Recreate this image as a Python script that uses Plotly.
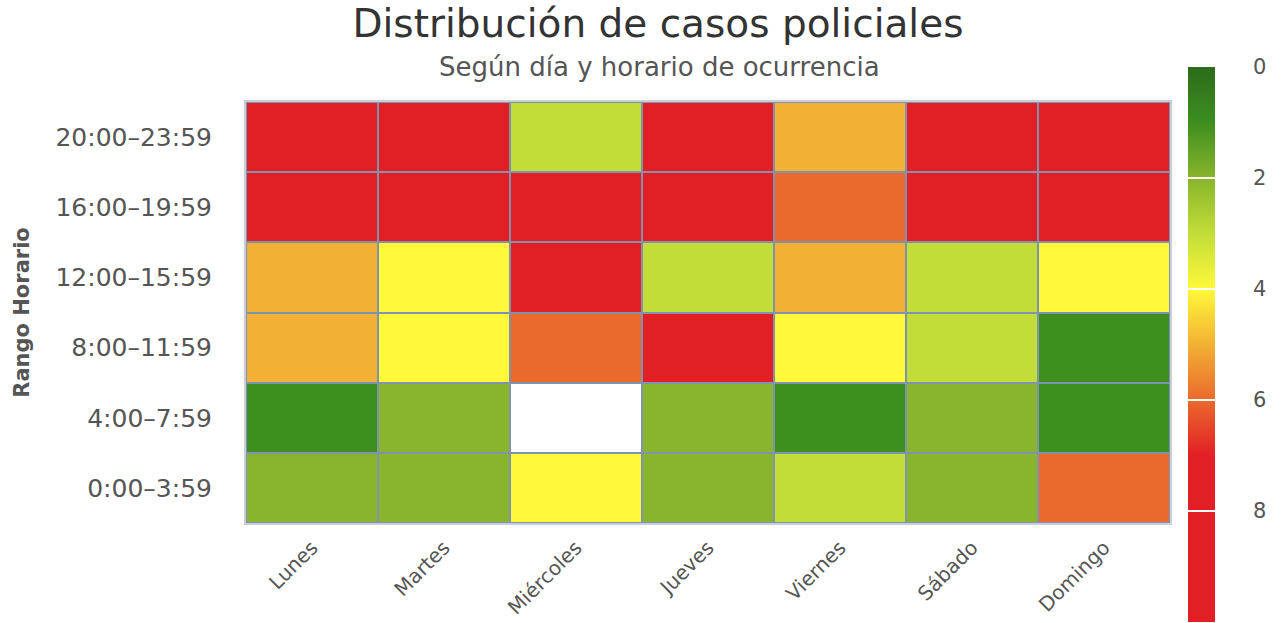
import plotly.graph_objects as go

dias = ["Lunes", "Martes", "Miércoles", "Jueves", "Viernes", "Sábado", "Domingo"]
horarios = ["0:00–3:59", "4:00–7:59", "8:00–11:59", "12:00–15:59", "16:00–19:59", "20:00–23:59"]

# rows follow horarios (bottom to top); None = sin dato
casos_0000 = [2, 2, 4, 2, 3, 2, 6]
casos_0400 = [1, 2, None, 2, 1, 2, 1]
casos_0800 = [5, 4, 6, 8, 4, 3, 1]
casos_1200 = [5, 4, 8, 3, 5, 3, 4]
casos_1600 = [8, 8, 8, 8, 6, 8, 8]
casos_2000 = [8, 8, 3, 8, 5, 8, 8]

tick_vals = [0, 2, 4, 6, 8, 10]

rows = [casos_0000, casos_0400, casos_0800, casos_1200, casos_1600, casos_2000]
z_neg = [[(-v if v is not None else None) for v in r] for r in rows]
z_null = [[(0 if v is None else None) for v in r] for r in rows]
custom = [[(v if v is not None else "") for v in r] for r in rows]

# colour stops in value space 0..10 (0 = green, 10 = red); reversed for negative z
stops = [(0.0, "#2B6C1A"), (1.0, "#3E8E20"), (2.0, "#88B52B"), (3.0, "#C2DD38"),
         (4.0, "#FFF93A"), (5.0, "#F2B134"), (6.0, "#EA6A2D"), (7.0, "#E31F26"), (10.0, "#E31F26")]
colorscale = sorted([[1 - v / 10.0, c] for v, c in stops])

border = "#7F92B0"
W, H = 1283, 623
L, R, T, B = 246, 1170, 102, 523
pw, ph = R - L, B - T

fig = go.Figure()
fig.add_trace(go.Heatmap(
    x=dias, y=horarios, z=z_null, xgap=2, ygap=2,
    colorscale=[[0, "#FFFFFF"], [1, "#FFFFFF"]], showscale=False, hoverinfo="skip",
))
fig.add_trace(go.Heatmap(
    x=dias, y=horarios, z=z_neg, customdata=custom, xgap=2, ygap=2,
    zmin=-10, zmax=0, colorscale=colorscale,
    hovertemplate="%{x}<br>%{y}: %{customdata}<extra></extra>",
    colorbar=dict(
        x=(1188 - L) / pw, xanchor="left", xpad=0, y=(B - 67) / ph, yanchor="top", ypad=0,
        lenmode="pixels", len=555, thickness=27, thicknessmode="pixels",
        outlinewidth=0,
        tickvals=[-t for t in tick_vals], ticktext=["\u00a0" * 5 + str(t) for t in tick_vals],
        ticks="inside", ticklen=27, tickcolor="#FFFFFF", tickwidth=2,
        tickfont=dict(family="DejaVu Sans", size=21, color="#555555"),
    ),
))

fig.update_layout(
    width=W, height=H,
    margin=dict(l=L, r=W - R, t=T, b=H - B, autoexpand=False),
    paper_bgcolor="#FFFFFF", plot_bgcolor=border,
    title=dict(text="Distribución de casos policiales", x=658 / W, xref="container", xanchor="center",
               y=1 - 23 / H, yanchor="middle", yref="container",
               font=dict(family="DejaVu Sans", size=39, color="#333333")),
    annotations=[dict(text="Según día y horario de ocurrencia", xref="paper", yref="paper",
                      x=(659 - L) / pw, y=1 + (T - 67) / ph, xanchor="center", yanchor="middle",
                      showarrow=False, font=dict(family="DejaVu Sans", size=26, color="#555555"))],
    xaxis=dict(tickangle=-45, tickfont=dict(family="DejaVu Sans", size=20, color="#555555"),
               showline=True, linecolor="#C8CEDA", linewidth=2, mirror=True, ticks="",
               ticklabelstandoff=3, showgrid=False, zeroline=False, automargin=False),
    yaxis=dict(tickfont=dict(family="DejaVu Sans", size=25, color="#555555"),
               title=dict(text="<b>Rango Horario</b>", standoff=20,
                          font=dict(family="DejaVu Sans", size=21, color="#555555")),
               showline=True, linecolor="#C8CEDA", linewidth=2, mirror=True, ticks="",
               ticklabelstandoff=27, showgrid=False, zeroline=False, automargin=False),
)

fig.write_html("out.html", config={"displayModeBar": False},
               post_script="document.body.style.margin='0';document.body.style.overflow='hidden';")
